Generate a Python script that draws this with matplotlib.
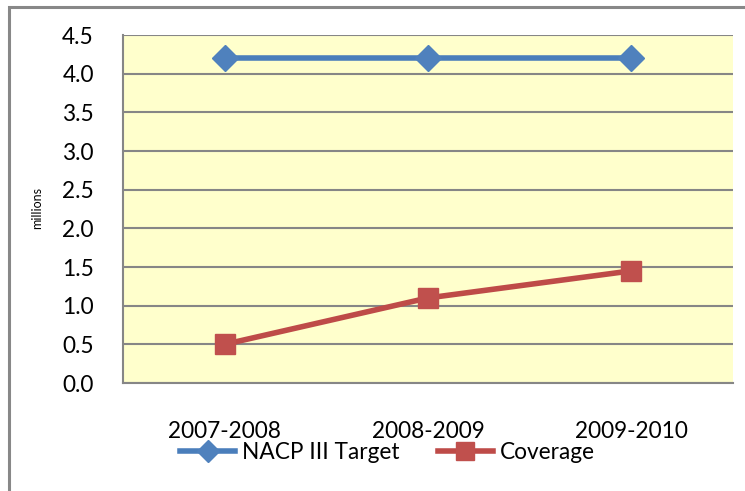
import matplotlib
matplotlib.use("Agg")
import matplotlib.pyplot as plt
from matplotlib.patches import Rectangle

categories = ["2007-2008", "2008-2009", "2009-2010"]
target = [4.2, 4.2, 4.2]
coverage = [0.5, 1.1, 1.45]
yticks = [0.0, 0.5, 1.0, 1.5, 2.0, 2.5, 3.0, 3.5, 4.0, 4.5]

plt.rcParams['font.family'] = ['Lato', 'DejaVu Sans']
FS = 16.3

W, H = 745, 491
fig = plt.figure(figsize=(W / 100, H / 100), dpi=100)
fig.patches.append(Rectangle((8.5 / W, -0.1), 1.2, (H - 6.5) / H + 0.1, transform=fig.transFigure,
                             fill=False, edgecolor="#888888", linewidth=2.2))

ax = fig.add_axes([123 / W, 1 - 383 / H, (733 - 123) / W, (383 - 35) / H])
ax.set_facecolor("#FFFFCC")
x = list(range(len(categories)))
ax.plot(x, target, color="#4A7EBB", linewidth=4, marker="D", markersize=13,
        markerfacecolor="#4F81BD", markeredgecolor="#4F81BD", label="NACP III Target", zorder=3)
ax.plot(x, coverage, color="#BE4B48", linewidth=4, marker="s", markersize=15,
        markerfacecolor="#C0504D", markeredgecolor="#C0504D", label="Coverage", zorder=3)

ax.set_xlim(-0.5, 2.5)
ax.set_ylim(0, 4.5)
ax.set_yticks(yticks)
ax.set_yticklabels([f"{v:.1f}" for v in yticks], fontsize=FS)
ax.set_xticks(x)
ax.set_xticklabels(categories, fontsize=FS)
ax.tick_params(axis="both", length=0)
ax.tick_params(axis="y", pad=21)
ax.tick_params(axis="x", pad=27)
ax.grid(axis="y", color="#868686", linewidth=1.5)
ax.set_axisbelow(True)
for s in ["top", "right"]:
    ax.spines[s].set_visible(False)
ax.spines["left"].set_color("#868686")
ax.spines["left"].set_linewidth(1.5)
ax.spines["bottom"].set_color("#868686")
ax.spines["bottom"].set_linewidth(1.5)

fig.text(37 / W, 1 - 208 / H, "millions", rotation=90, fontsize=9, ha="center", va="center")

leg = ax.legend(loc="center", bbox_to_anchor=(0.433, -0.2), ncol=2, frameon=False,
                fontsize=FS, handlelength=2.45, handletextpad=0.28, columnspacing=1.7,
                borderaxespad=0, markerscale=0.85)
plt.savefig("out.png", dpi=100)
